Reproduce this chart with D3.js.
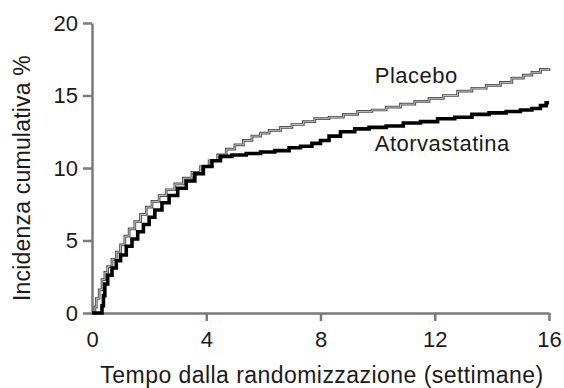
<!DOCTYPE html>
<html>
<head>
<meta charset="utf-8">
<script src="https://cdn.jsdelivr.net/npm/d3@7"></script>
<style>
  html, body { margin: 0; padding: 0; background: #fff; }
  svg { display: block; font-family: "Liberation Sans", Arial, Helvetica, sans-serif; }
</style>
</head>
<body>
<svg id="chart" width="564" height="388"></svg>
<script>
// ---- Data ----
const xTicks = [0, 4, 8, 12, 16];
const yTicks = [0, 5, 10, 15, 20];
const xTitle = "Tempo dalla randomizzazione (settimane)";
const yTitle = "Incidenza cumulativa %";
const seriesNames = ["Placebo", "Atorvastatina"];

// weeks, cumulative incidence %
const placeboWeeks = [0, 0.1, 0.15, 0.25, 0.35, 0.45, 0.55, 0.7, 0.85, 1.0, 1.15, 1.3, 1.5, 1.7, 1.9, 2.1, 2.35, 2.6, 2.9, 3.2, 3.5, 3.8, 4.1, 4.4, 4.7, 5.0, 5.3, 5.6, 5.9, 6.2, 6.6, 7.0, 7.4, 7.8, 8.3, 8.8, 9.3, 9.8, 10.3, 10.8, 11.3, 11.8, 12.3, 12.8, 13.3, 13.8, 14.3, 14.7, 15.1, 15.4, 15.7, 16.0];
const placeboValues = [0, 0.4, 1.0, 1.6, 2.3, 2.8, 3.2, 3.7, 4.2, 4.7, 5.3, 5.8, 6.3, 6.8, 7.3, 7.7, 8.1, 8.5, 8.9, 9.3, 9.7, 10.1, 10.5, 10.9, 11.3, 11.6, 11.9, 12.2, 12.4, 12.6, 12.8, 13.0, 13.2, 13.4, 13.5, 13.7, 13.9, 14.0, 14.2, 14.4, 14.6, 14.8, 15.0, 15.3, 15.5, 15.7, 15.9, 16.2, 16.4, 16.6, 16.8, 16.9];

const atorvaWeeks = [0, 0.35, 0.4, 0.45, 0.55, 0.7, 0.85, 1.0, 1.2, 1.4, 1.6, 1.8, 2.0, 2.2, 2.45, 2.7, 3.0, 3.3, 3.6, 3.9, 4.2, 4.5, 4.9, 5.4, 5.9, 6.4, 6.9, 7.3, 7.7, 8.0, 8.3, 8.7, 9.2, 9.7, 10.3, 10.9, 11.5, 12.1, 12.7, 13.3, 13.9, 14.5, 15.0, 15.4, 15.7, 15.9, 16.0];
const atorvaValues = [0, 0.5, 1.2, 2.0, 2.6, 3.1, 3.6, 4.0, 4.6, 5.1, 5.6, 6.1, 6.6, 7.1, 7.6, 8.1, 8.6, 9.1, 9.6, 10.1, 10.5, 10.8, 10.9, 11.0, 11.1, 11.2, 11.4, 11.5, 11.7, 11.9, 12.2, 12.5, 12.7, 12.8, 12.9, 13.1, 13.2, 13.4, 13.5, 13.7, 13.8, 13.9, 14.0, 14.1, 14.3, 14.5, 14.5];

// ---- Chart ----
const svg = d3.select("#chart");
const x = d3.scaleLinear().domain([0, 16]).range([92, 549]);
const y = d3.scaleLinear().domain([0, 20]).range([313, 23]);

const axisColor = "#7a7a7a";

// Y axis
const gy = svg.append("g")
  .attr("transform", `translate(${x(0)},0)`)
  .call(d3.axisLeft(y).tickValues(yTicks).tickSize(9).tickSizeOuter(0).tickPadding(5));
// X axis
const gx = svg.append("g")
  .attr("transform", `translate(0,${y(0)})`)
  .call(d3.axisBottom(x).tickValues(xTicks).tickSize(8).tickSizeOuter(0).tickPadding(10));

[gx, gy].forEach(g => {
  g.select(".domain").attr("stroke", axisColor).attr("stroke-width", 2.5);
  g.selectAll(".tick line").attr("stroke", axisColor).attr("stroke-width", 2.5);
  g.selectAll(".tick text").attr("fill", "#1a1a1a").style("font-size", "22px")
    .style("font-family", '"Liberation Sans", Arial, sans-serif');
});
gx.selectAll(".tick").filter(d => d === 0).select("line").remove();

// Titles
svg.append("text")
  .attr("x", 322).attr("y", 383)
  .attr("text-anchor", "middle")
  .style("font-size", "23px").style("letter-spacing", "0.45px")
  .attr("fill", "#1a1a1a")
  .text(xTitle);

svg.append("text")
  .attr("transform", `translate(30,178) rotate(-90)`)
  .attr("text-anchor", "middle")
  .style("font-size", "23px").style("letter-spacing", "0.2px")
  .attr("fill", "#1a1a1a")
  .text(yTitle);

// Lines
const line = d3.line().x(d => x(d[0])).y(d => y(d[1])).curve(d3.curveStepAfter);
const placebo = d3.zip(placeboWeeks, placeboValues);
const atorva = d3.zip(atorvaWeeks, atorvaValues);

svg.append("path").datum(placebo).attr("d", line)
  .attr("fill", "none").attr("stroke", "#4a4a4a").attr("stroke-width", 2.7);
svg.append("path").datum(placebo).attr("d", line)
  .attr("fill", "none").attr("stroke", "#cfcfcf").attr("stroke-width", 0.9);

svg.append("path").datum(atorva).attr("d", line)
  .attr("fill", "none").attr("stroke", "#000").attr("stroke-width", 3.6);

// Series labels
svg.append("text")
  .attr("x", x(9.9)).attr("y", 83)
  .style("font-size", "22px").style("letter-spacing", "0.5px")
  .attr("fill", "#1a1a1a").text(seriesNames[0]);
svg.append("text")
  .attr("x", x(9.9)).attr("y", 151)
  .style("font-size", "22px").style("letter-spacing", "0.5px")
  .attr("fill", "#1a1a1a").text(seriesNames[1]);
</script>
</body>
</html>
